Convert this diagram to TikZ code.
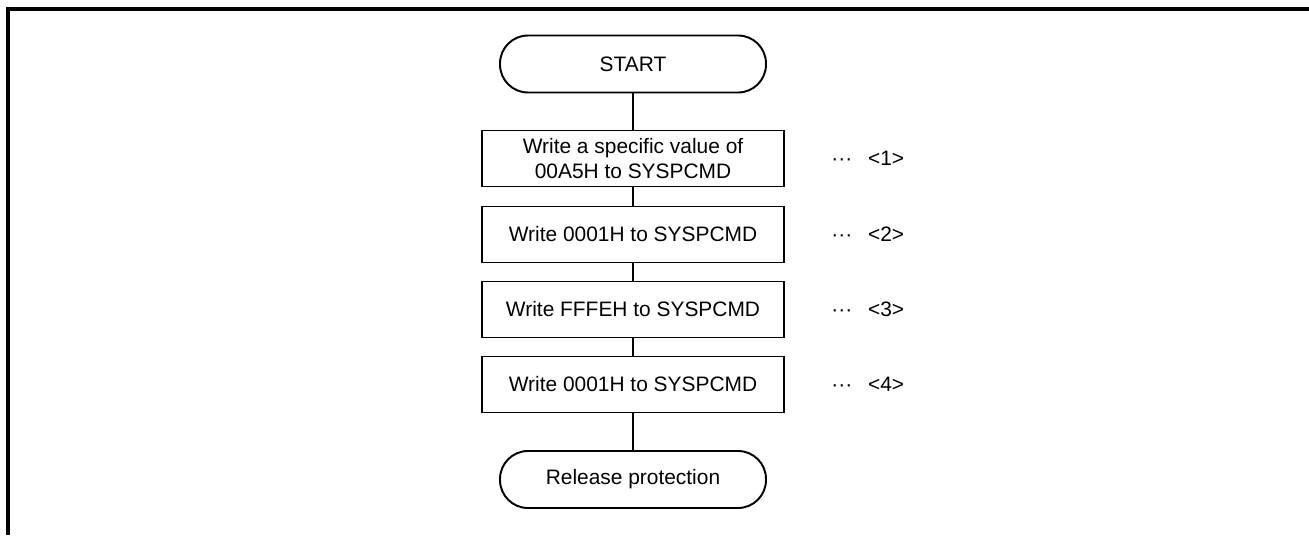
\documentclass[tikz,border=0pt]{standalone}
\usepackage{fontspec}
\setmainfont{Liberation Sans}
\usetikzlibrary{positioning}

\tikzset{
  termbox/.style={draw,line width=1.1pt,rounded corners=.56cm,minimum width=5.32cm,minimum height=1.14cm,inner sep=0pt},
  stepbox/.style={draw,line width=1.1pt,minimum width=6.04cm,minimum height=1.12cm,inner sep=0pt,align=center},
  flowline/.style={line width=.6pt}
}

\begin{document}
\begin{tikzpicture}[font=\fontsize{11.9}{14.2}\selectfont]
  \useasboundingbox (0,0) rectangle (26.18,10.7);
  \draw[line width=1.9pt] (0.16,0) -- (0.16,10.52) -- (26.18,10.52);

  \node[termbox] (start) at (12.66,9.42) {START};
  \foreach \i/\y/\txt in {1/7.53/{Write a specific value of\\00A5H to SYSPCMD},2/6.01/{Write 0001H to SYSPCMD},3/4.51/{Write FFFEH to SYSPCMD},4/3.01/{Write 0001H to SYSPCMD}}{
    \node[stepbox] (step\i) at (12.66,\y) {\txt};
    \node[anchor=west,inner sep=0pt] (lbl\i) at (16.62,\y) {···\hspace{9pt}<\i>};
  }
  \node[termbox] (stop) at (12.66,1.11) {Release protection};

  \draw[flowline] (start) -- (step1);
  \foreach \a/\b in {1/2,2/3,3/4}{
    \draw[flowline] (step\a) -- (step\b);
  }
  \draw[flowline] (step4) -- (stop);
\end{tikzpicture}
\end{document}
